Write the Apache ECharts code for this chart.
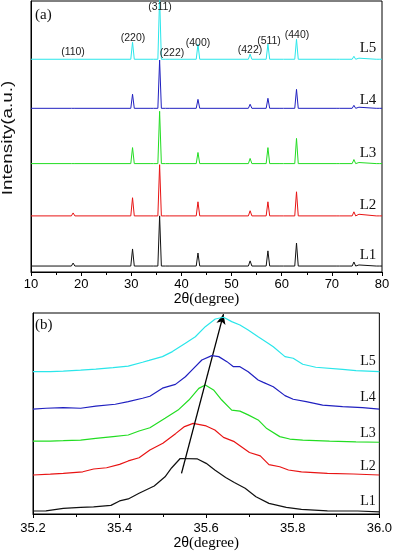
<!DOCTYPE html>
<html><head><meta charset="utf-8">
<script src="https://cdn.jsdelivr.net/npm/echarts@6/dist/echarts.min.js"></script>
<style>html,body{margin:0;padding:0;background:#fff}#c{width:395px;height:552px}</style>
</head><body><div id="c"></div>
<script>
// ---------- Panel (a): XRD patterns 10-80 deg ----------
const seriesNames = ['L1', 'L2', 'L3', 'L4', 'L5'];
const seriesColors = ['#111111', '#e81414', '#22dd22', '#2020c0', '#2ae6ea'];
const peakPositions = [18.4, 30.25, 34.1, 35.65, 37.2, 43.3, 53.7, 57.25, 60.0, 62.95, 71.2, 74.4, 75.4, 79.2];
// baseline level of each pattern (a.u.)
const baselineA = [2.2, 20.7, 40.0, 60.4, 78.5];
// peak heights above baseline (a.u.), same order as peakPositions
const heightsL1 = [1.1, 6.3, 0.7, 18.5, 0.7, 4.8, 1.9, 5.6, 0.6, 8.5, 0.7, 1.5, 0.4, 0.7];
const heightsL2 = [1.1, 6.7, 0.7, 18.9, 0.7, 5.2, 1.9, 5.2, 0.6, 8.9, 0.7, 1.5, 0.6, 0.7];
const heightsL3 = [0.6, 5.9, 0.6, 19.3, 0.6, 4.1, 1.9, 5.9, 0.4, 9.3, 0.7, 1.5, 0.4, 0.4];
const heightsL4 = [0.7, 5.2, 0.5, 17.8, 0.5, 3.3, 1.5, 3.7, 0.4, 7.0, 0.7, 1.1, 0.4, 0.4];
const heightsL5 = [0.6, 6.3, 0.4, 23.0, 0.4, 5.6, 1.9, 5.6, 0.3, 7.4, 0.7, 1.1, 0.4, 0.3];
const heightsA = [heightsL1, heightsL2, heightsL3, heightsL4, heightsL5];
const xTicksA = [10, 20, 30, 40, 50, 60, 70, 80];
const hklLabels = ['(110)', '(220)', '(311)', '(222)', '(400)', '(422)', '(511)', '(440)'];

// ---------- Panel (b): (311) peak 35.2-36.0 deg ----------
const bL1 = [[35.20,1.5],[35.23,1.6],[35.27,2.8],[35.31,3.3],[35.34,3.5],[35.38,4.3],[35.40,6.5],[35.42,7.5],[35.445,10.3],[35.48,13.9],[35.505,18.5],[35.52,22.9],[35.54,27.6],[35.58,27.4],[35.60,25.2],[35.62,21.9],[35.645,18.2],[35.665,15.7],[35.69,12.8],[35.715,8.6],[35.745,5.3],[35.785,3.3],[35.82,2.3],[35.88,1.6],[35.95,1.5],[36.0,1.1]];
const bL2 = [[35.20,19.4],[35.24,19.8],[35.27,20.2],[35.315,21.0],[35.34,22.4],[35.37,23.0],[35.40,24.7],[35.42,26.4],[35.445,28.0],[35.47,31.8],[35.50,35.2],[35.53,40.1],[35.55,43.5],[35.57,45.1],[35.60,43.8],[35.62,41.8],[35.64,38.1],[35.665,36.0],[35.70,30.6],[35.725,28.9],[35.745,24.6],[35.77,23.5],[35.79,21.9],[35.82,21.0],[35.88,20.2],[35.94,19.9],[36.0,19.4]];
const bL3 = [[35.20,36.3],[35.24,36.3],[35.27,36.5],[35.31,36.8],[35.345,37.6],[35.385,38.5],[35.42,39.3],[35.445,41.3],[35.47,42.9],[35.505,47.6],[35.535,51.7],[35.56,56.7],[35.583,62.5],[35.598,64.2],[35.617,61.7],[35.636,56.7],[35.659,51.7],[35.678,51.2],[35.697,49.3],[35.72,46.8],[35.74,42.5],[35.77,38.5],[35.793,37.3],[35.823,36.8],[35.885,36.3],[35.946,35.9],[36.0,35.7]];
const bL4 = [[35.20,52.2],[35.23,52.6],[35.27,52.9],[35.31,52.6],[35.345,53.7],[35.39,54.6],[35.42,55.9],[35.453,57.6],[35.47,58.6],[35.499,62.6],[35.529,64.5],[35.552,68.3],[35.567,71.6],[35.59,76.6],[35.613,78.8],[35.629,78.3],[35.648,75.8],[35.663,73.3],[35.678,73.3],[35.697,70.8],[35.72,66.7],[35.732,65.5],[35.755,63.3],[35.782,58.9],[35.801,57.1],[35.831,55.9],[35.869,54.2],[35.915,53.4],[35.961,52.9],[36.0,52.2]];
const bL5 = [[35.20,70.8],[35.24,70.8],[35.27,71.1],[35.31,71.6],[35.345,72.1],[35.385,72.8],[35.42,73.6],[35.453,75.5],[35.468,76.4],[35.499,78.3],[35.522,80.8],[35.552,85.0],[35.575,88.2],[35.598,93.2],[35.621,97.0],[35.64,97.9],[35.659,95.7],[35.678,94.0],[35.697,91.5],[35.72,88.2],[35.743,85.0],[35.755,83.2],[35.782,78.3],[35.801,77.5],[35.823,74.5],[35.853,73.0],[35.915,72.0],[35.946,71.3],[36.0,70.8]];
const seriesB = [bL1, bL2, bL3, bL4, bL5];
const arrowStart = [35.543, 20.2];
const arrowEnd = [35.64, 99.4];
const xTicksB = [35.2, 35.4, 35.6, 35.8, 36.0];

// Build peak profiles for panel (a) from the read positions/heights
function buildPattern(base, heights) {
  const pts = [[10, base]];
  peakPositions.forEach((p, i) => {
    pts.push([p - 0.35, base]);
    pts.push([p, base + heights[i]]);
    pts.push([p + 0.35, base]);
  });
  pts.push([80, base]);
  return pts;
}

const chart = echarts.init(document.getElementById('c'), null, {renderer: 'canvas'});
const sans = 'Liberation Sans, Arial, sans-serif';
const serif = 'Liberation Serif, Times New Roman, serif';

function xAxisCommon(min, max, interval, gridIndex, nameGap, margin, fmt) {
  return {
    type: 'value', gridIndex, min, max, interval,
    name: '{s|2θ}{t|(degree)}', nameLocation: 'middle', nameGap,
    nameTextStyle: {rich: {s: {fontFamily: sans, fontSize: 14, color: '#000'}, t: {fontFamily: serif, fontSize: 15, color: '#000'}}},
    axisLine: {show: true, lineStyle: {color: '#000', width: 1}},
    axisTick: {show: true, length: 4, inside: false, lineStyle: {color: '#000'}},
    minorTick: {show: true, splitNumber: 2, length: 3, lineStyle: {color: '#000'}},
    splitLine: {show: false},
    axisLabel: {color: '#000', fontFamily: sans, fontSize: 13, margin, formatter: fmt}
  };
}

const series = [];
for (let i = 0; i < 5; i++) {
  series.push({
    type: 'line', xAxisIndex: 0, yAxisIndex: 0, name: seriesNames[i] + 'a',
    data: buildPattern(baselineA[i], heightsA[i]),
    symbol: 'none', lineStyle: {color: seriesColors[i], width: 1}, clip: true, z: 2 + i
  });
}
for (let i = 0; i < 5; i++) {
  const s = {
    type: 'line', xAxisIndex: 1, yAxisIndex: 1, name: seriesNames[i] + 'b',
    data: seriesB[i], symbol: 'none',
    lineStyle: {color: seriesColors[i], width: 1.2}, clip: true, z: 2 + i
  };
  if (i === 0) {
    s.markLine = {
      silent: true, symbol: ['none', 'arrow'], symbolSize: [7, 10],
      label: {show: false},
      lineStyle: {color: '#000', width: 1.3, type: 'solid'},
      data: [[{coord: arrowStart}, {coord: arrowEnd}]]
    };
    s.z = 10;
  }
  series.push(s);
}

const hklPos = [[73, 52], [133, 38], [160, 7], [172, 53], [198, 43], [250, 50], [269, 41], [297, 35]];
const graphics = [];
hklLabels.forEach((t, i) => {
  graphics.push({type: 'text', x: hklPos[i][0], y: hklPos[i][1], z: 100,
    style: {text: t, fill: '#222', font: '10.5px ' + sans, textAlign: 'center', textVerticalAlign: 'middle'}});
});
const labelYa = [255, 205, 153, 100, 48];
const labelYb = [501, 466, 433, 397, 361];
for (let i = 0; i < 5; i++) {
  graphics.push({type: 'text', x: 368, y: labelYa[i], style: {text: seriesNames[i], fill: '#111', font: '15px ' + serif, textAlign: 'center', textVerticalAlign: 'middle'}});
  graphics.push({type: 'text', x: 368, y: labelYb[i], style: {text: seriesNames[i], fill: '#111', font: '14px ' + serif, textAlign: 'center', textVerticalAlign: 'middle'}});
}
graphics.push({type: 'text', x: 35, y: 15, style: {text: '(a)', fill: '#111', font: '15px ' + serif, textVerticalAlign: 'middle'}});
graphics.push({type: 'text', x: 35, y: 325, style: {text: '(b)', fill: '#111', font: '15px ' + serif, textVerticalAlign: 'middle'}});
// y-axis title (stretched along its length as in the reference)
graphics.push({type: 'text', x: 8, y: 138, rotation: Math.PI / 2, scaleX: 1.35, scaleY: 1,
  style: {text: 'Intensity(a.u.)', fill: '#111', font: '14px ' + sans, textAlign: 'center', textVerticalAlign: 'middle'}});

chart.setOption({
  animation: false,
  backgroundColor: '#fff',
  grid: [
    {left: 31, right: 13, top: 1, height: 271, show: true, borderColor: '#000', borderWidth: 1, backgroundColor: 'transparent'},
    {left: 33, right: 13, top: 313, height: 201, show: true, borderColor: '#000', borderWidth: 1, backgroundColor: 'transparent'}
  ],
  xAxis: [
    xAxisCommon(10, 80, 10, 0, 18, 6, v => String(v)),
    xAxisCommon(35.2, 36.0, 0.2, 1, 22, 8, v => v.toFixed(1))
  ],
  yAxis: [
    {type: 'value', gridIndex: 0, min: 0, max: 100,
      axisLine: {show: true, lineStyle: {color: '#000'}}, axisTick: {show: false}, axisLabel: {show: false}, splitLine: {show: false}},
    {type: 'value', gridIndex: 1, min: 0, max: 100,
      axisLine: {show: true, lineStyle: {color: '#000'}}, axisTick: {show: false}, axisLabel: {show: false}, splitLine: {show: false}}
  ],
  series,
  graphic: graphics
});
</script>
</body></html>
